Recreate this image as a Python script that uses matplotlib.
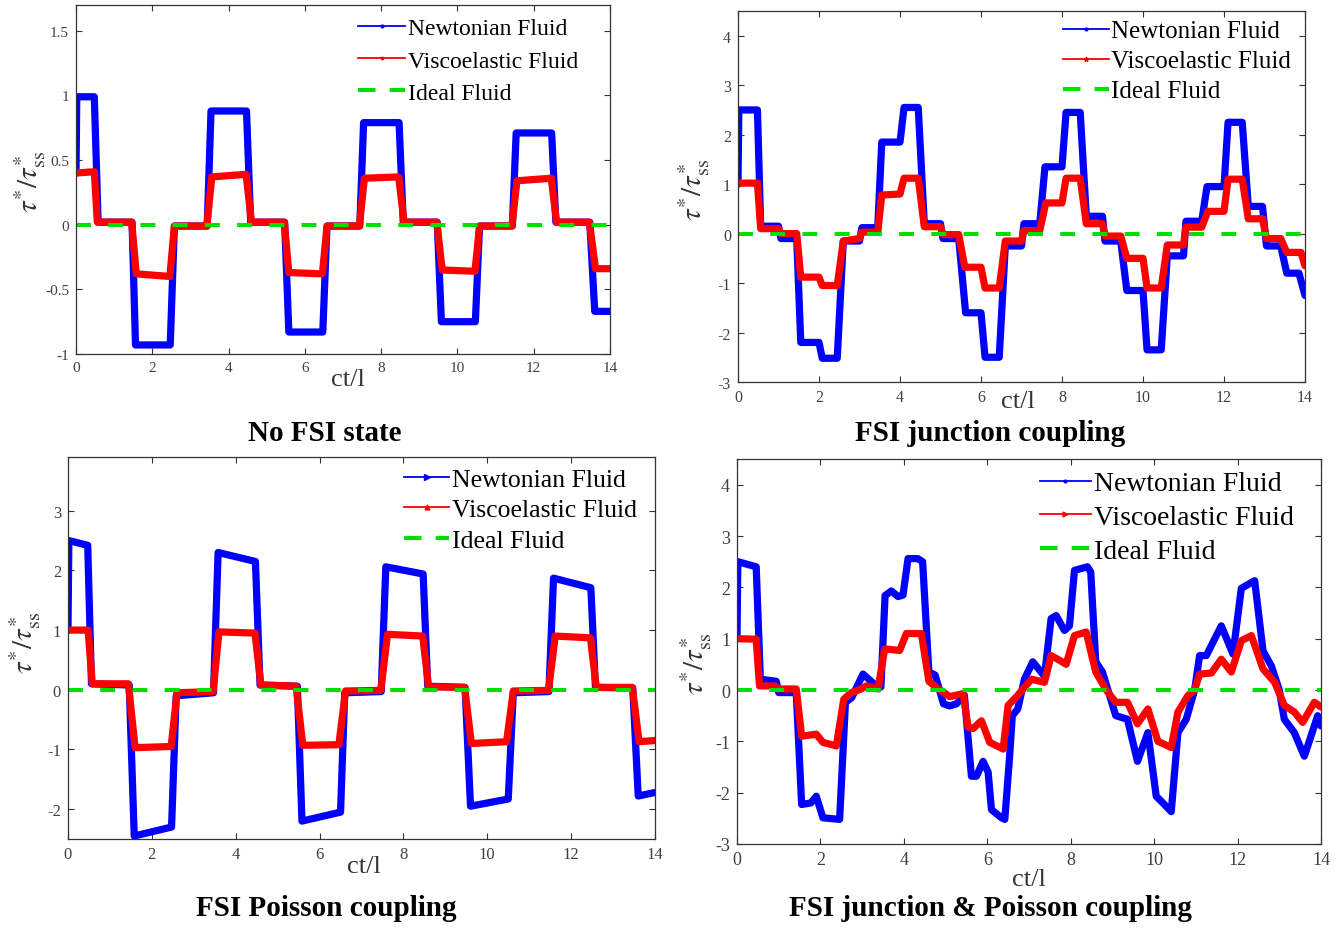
import matplotlib
matplotlib.use("Agg")
import matplotlib.pyplot as plt
from matplotlib.lines import Line2D
from matplotlib.ticker import FuncFormatter

# ---- data (ct/l, tau*/tau*_ss) ----
# No FSI state
p1_t_newt = [0, 0.02, 0.48, 0.58, 1.47, 1.56, 2.47, 2.58, 3.44, 3.54, 4.47, 4.58, 5.47, 5.58, 6.47, 6.58,
             7.44, 7.54, 8.47, 8.58, 9.47, 9.58, 10.47, 10.58, 11.44, 11.54, 12.47, 12.58, 13.47, 13.6, 14.0]
p1_newt = [0.40, 0.99, 0.99, 0.02, 0.02, -0.93, -0.93, -0.01, -0.01, 0.88, 0.88, 0.02, 0.02, -0.83, -0.83, -0.01,
           -0.01, 0.79, 0.79, 0.02, 0.02, -0.75, -0.75, -0.01, -0.01, 0.71, 0.71, 0.02, 0.02, -0.67, -0.67]
p1_t_visc = [0, 0.48, 0.56, 1.46, 1.58, 2.46, 2.58, 3.43, 3.56, 4.46, 4.6, 5.46, 5.58, 6.46, 6.58,
             7.43, 7.56, 8.46, 8.6, 9.46, 9.6, 10.46, 10.58, 11.43, 11.56, 12.46, 12.6, 13.46, 13.62, 14.0]
p1_visc = [0.40, 0.41, 0.02, 0.02, -0.38, -0.40, -0.01, -0.01, 0.37, 0.39, 0.02, 0.02, -0.37, -0.38, -0.01,
           -0.01, 0.36, 0.37, 0.02, 0.02, -0.35, -0.36, -0.01, -0.01, 0.34, 0.36, 0.02, 0.02, -0.34, -0.34]

# FSI junction coupling
p2_t_newt = [0, 0.02, 0.48, 0.56, 1.0, 1.06, 1.45, 1.55, 2.0, 2.08, 2.45, 2.6, 3.0, 3.06, 3.45, 3.55,
             4.0, 4.1, 4.45, 4.6, 5.0, 5.06, 5.45, 5.62, 6.0, 6.1, 6.45, 6.6, 7.0, 7.06, 7.45, 7.58,
             8.0, 8.1, 8.45, 8.6, 9.0, 9.06, 9.45, 9.6, 10.0, 10.1, 10.45, 10.6, 11.0, 11.06, 11.45, 11.58,
             12.0, 12.1, 12.45, 12.6, 12.95, 13.05, 13.4, 13.55, 13.85, 14.0]
p2_newt = [1.0, 2.5, 2.5, 0.15, 0.15, -0.1, -0.1, -2.2, -2.2, -2.52, -2.52, -0.15, -0.15, 0.12, 0.12, 1.85,
           1.85, 2.55, 2.55, 0.2, 0.2, -0.1, -0.1, -1.6, -1.6, -2.5, -2.5, -0.25, -0.25, 0.2, 0.2, 1.35,
           1.35, 2.45, 2.45, 0.35, 0.35, -0.15, -0.15, -1.15, -1.15, -2.35, -2.35, -0.45, -0.45, 0.25, 0.25, 0.95,
           0.95, 2.25, 2.25, 0.55, 0.55, -0.25, -0.25, -0.8, -0.8, -1.25]
p2_t_visc = [0, 0.02, 0.48, 0.56, 1.0, 1.06, 1.45, 1.55, 2.0, 2.08, 2.45, 2.6, 3.0, 3.06, 3.45, 3.55,
             4.0, 4.1, 4.45, 4.6, 5.0, 5.06, 5.45, 5.6, 6.0, 6.1, 6.45, 6.6, 7.0, 7.06, 7.45, 7.6,
             8.0, 8.1, 8.45, 8.6, 9.0, 9.06, 9.45, 9.6, 10.0, 10.1, 10.45, 10.6, 11.0, 11.06, 11.45, 11.6,
             12.0, 12.1, 12.45, 12.6, 12.95, 13.05, 13.4, 13.55, 13.9, 14.0]
p2_visc = [1.0, 1.02, 1.02, 0.1, 0.1, 0.0, 0.0, -0.88, -0.88, -1.05, -1.05, -0.15, -0.1, 0.03, 0.03, 0.78,
           0.8, 1.12, 1.12, 0.14, 0.14, -0.02, -0.02, -0.68, -0.68, -1.1, -1.1, -0.15, -0.15, 0.06, 0.06, 0.62,
           0.62, 1.12, 1.12, 0.2, 0.2, -0.05, -0.05, -0.5, -0.5, -1.1, -1.1, -0.23, -0.23, 0.13, 0.13, 0.45,
           0.45, 1.1, 1.1, 0.3, 0.3, -0.1, -0.1, -0.38, -0.38, -0.65]

# FSI Poisson coupling
p3_t_newt = [0, 0.02, 0.47, 0.56, 1.46, 1.58, 2.47, 2.58, 3.47, 3.58, 4.47, 4.58, 5.47, 5.58, 6.5, 6.6,
             7.47, 7.58, 8.47, 8.58, 9.47, 9.6, 10.5, 10.62, 11.47, 11.58, 12.47, 12.58, 13.47, 13.6, 14.0]
p3_newt = [1.0, 2.5, 2.42, 0.1, 0.08, -2.45, -2.3, -0.1, -0.05, 2.3, 2.15, 0.08, 0.06, -2.2, -2.05, -0.05,
           -0.03, 2.06, 1.94, 0.06, 0.04, -1.95, -1.83, -0.05, -0.03, 1.87, 1.71, 0.04, 0.03, -1.78, -1.72]
p3_t_visc = [0, 0.48, 0.58, 1.44, 1.6, 2.46, 2.6, 3.46, 3.6, 4.46, 4.6, 5.44, 5.6, 6.46, 6.62,
             7.46, 7.62, 8.46, 8.6, 9.46, 9.62, 10.46, 10.62, 11.46, 11.62, 12.46, 12.6, 13.46, 13.62, 14.0]
p3_visc = [1.0, 1.0, 0.1, 0.1, -0.97, -0.95, -0.05, -0.03, 0.97, 0.95, 0.08, 0.06, -0.93, -0.92, -0.02,
           -0.01, 0.93, 0.9, 0.05, 0.04, -0.9, -0.87, -0.02, -0.01, 0.9, 0.87, 0.04, 0.04, -0.87, -0.85]

# FSI junction & Poisson coupling
p4_t_newt = [0, 0.02, 0.46, 0.56, 0.94, 1.0, 1.42, 1.55, 1.77, 1.9,
             2.06, 2.46, 2.6, 2.75, 3.02, 3.34, 3.45, 3.55, 3.7, 3.86, 3.98,
             4.1, 4.33, 4.45, 4.6, 4.75, 4.95, 5.1, 5.26, 5.45, 5.62,
             5.74, 5.9, 6.02, 6.1, 6.34, 6.42, 6.53, 6.6, 6.73, 6.89,
             7.09, 7.37, 7.53, 7.65, 7.85, 7.97, 8.09, 8.4, 8.48, 8.6,
             8.76, 8.96, 9.08, 9.36, 9.6, 9.85, 10.05, 10.21, 10.41, 10.57,
             10.77, 10.97, 11.09, 11.25, 11.61, 11.89, 12.09, 12.41, 12.61, 12.81,
             13.0, 13.12, 13.36, 13.6, 13.8, 13.92, 14.0]
p4_newt = [1.0, 2.5, 2.4, 0.21, 0.17, -0.05, -0.05, -2.23, -2.2, -2.07,
           -2.49, -2.52, -0.24, -0.15, 0.31, 0.08, 0.06, 1.84, 1.93, 1.82, 1.85,
           2.56, 2.56, 2.5, 0.35, 0.29, -0.27, -0.31, -0.27, -0.1, -1.68,
           -1.68, -1.39, -1.6, -2.33, -2.49, -2.52, -1.35, -0.5, -0.37, 0.21,
           0.55, 0.27, 1.39, 1.45, 1.16, 1.25, 2.33, 2.4, 2.3, 0.55,
           0.35, -0.18, -0.5, -0.57, -1.39, -0.83, -2.07, -2.2, -2.37, -0.83,
           -0.57, 0.0, 0.67, 0.67, 1.25, 0.7, 1.98, 2.13, 0.76, 0.47,
           0.0, -0.57, -0.83, -1.29, -0.8, -0.5, -0.7]
p4_t_visc = [0, 0.46, 0.54, 0.9, 1.0, 1.42, 1.55, 1.9, 2.06, 2.38,
             2.56, 2.74, 2.98, 3.1, 3.38, 3.54, 3.9, 4.06, 4.42, 4.6,
             4.78, 5.1, 5.42, 5.54, 5.66, 5.86, 6.06, 6.38, 6.5, 6.7,
             6.86, 7.06, 7.37, 7.53, 7.69, 7.89, 8.09, 8.37, 8.6, 8.85,
             9.08, 9.36, 9.6, 9.85, 10.09, 10.41, 10.57, 10.81, 10.97, 11.09,
             11.37, 11.61, 11.85, 12.09, 12.33, 12.61, 12.89, 13.12, 13.36, 13.56,
             13.84, 14.0]
p4_visc = [1.0, 0.99, 0.08, 0.08, 0.02, 0.02, -0.9, -0.86, -1.02, -1.09,
           -0.18, -0.05, 0.02, 0.08, 0.02, 0.8, 0.77, 1.1, 1.1, 0.17,
           0.05, -0.13, -0.07, -0.72, -0.75, -0.6, -1.02, -1.15, -0.3, -0.13,
           0.02, 0.21, 0.15, 0.67, 0.6, 0.5, 1.06, 1.13, 0.35, 0.0,
           -0.24, -0.24, -0.66, -0.37, -1.0, -1.12, -0.43, -0.11, 0.0, 0.31,
           0.33, 0.6, 0.35, 0.96, 1.06, 0.41, 0.15, -0.3, -0.43, -0.63,
           -0.24, -0.33]

x_ticks = [0, 2, 4, 6, 8, 10, 12, 14]
p1_yticks = [-1, -0.5, 0, 0.5, 1, 1.5]
p2_yticks = [-3, -2, -1, 0, 1, 2, 3, 4]
p3_yticks = [-2, -1, 0, 1, 2, 3]
p4_yticks = [-3, -2, -1, 0, 1, 2, 3, 4]

titles = ["No FSI state", "FSI junction coupling", "FSI Poisson coupling",
          "FSI junction & Poisson coupling"]
labels = ["Newtonian Fluid", "Viscoelastic Fluid", "Ideal Fluid"]

# ---- styling ----
plt.rcParams["font.family"] = "serif"
plt.rcParams["font.serif"] = ["Liberation Serif", "DejaVu Serif"]
plt.rcParams["mathtext.fontset"] = "stix"
plt.rcParams["axes.unicode_minus"] = False

W, H = 1338, 929
BLUE, RED, GREEN = "#0000ff", "#ff0000", "#00e000"


def px_rect(l, t, r, b):
    return [l / W, 1 - b / H, (r - l) / W, (b - t) / H]


panels = [
    dict(box=(76, 6, 610, 355), ylim=(-1, 1.7), yticks=p1_yticks,
         newt=(p1_t_newt, p1_newt), visc=(p1_t_visc, p1_visc),
         tick_fs=11, leg_fs=17, leg_xy=(0.528, 0.963), hl=2.0, ls=0.45, marks=(".", "."),
         xlab=(0.509, -0.072), ylab=(-0.086, 0.496), title_xy=(325, 434)),
    dict(box=(738, 12, 1305, 383), ylim=(-3, 4.5), yticks=p2_yticks,
         newt=(p2_t_newt, p2_newt), visc=(p2_t_visc, p2_visc),
         tick_fs=11.5, leg_fs=18, leg_xy=(0.573, 0.976), hl=1.84, ls=0.3, marks=(".", "*"),
         xlab=(0.494, -0.051), ylab=(-0.078, 0.52), title_xy=(990, 434)),
    dict(box=(68, 458, 655, 840), ylim=(-2.5, 3.9), yticks=p3_yticks,
         newt=(p3_t_newt, p3_newt), visc=(p3_t_visc, p3_visc),
         tick_fs=12, leg_fs=18.5, leg_xy=(0.573, 0.972), hl=1.75, ls=0.3, marks=(">", "^"),
         xlab=(0.504, -0.071), ylab=(-0.072, 0.516), title_xy=(326, 909)),
    dict(box=(737, 460, 1321, 845), ylim=(-3, 4.5), yticks=p4_yticks,
         newt=(p4_t_newt, p4_newt), visc=(p4_t_visc, p4_visc),
         tick_fs=13, leg_fs=20, leg_xy=(0.518, 0.969), hl=1.85, ls=0.3, marks=(".", ">"),
         xlab=(0.5, -0.091), ylab=(-0.07, 0.47), title_xy=(990, 909)),
]

fig = plt.figure(figsize=(W / 100, H / 100), dpi=100)

for p, title in zip(panels, titles):
    ax = fig.add_axes(px_rect(*p["box"]))
    ax.plot(*p["newt"], color=BLUE, lw=5.2, solid_joinstyle="round", solid_capstyle="round")
    ax.plot(*p["visc"], color=RED, lw=5.2, solid_joinstyle="round", solid_capstyle="round")
    ax.plot([x_ticks[0], x_ticks[-1]], [0, 0], color=GREEN, lw=2.9, ls=(0, (3.7, 4.3)))

    ax.set_xlim(x_ticks[0], x_ticks[-1])
    ax.set_ylim(*p["ylim"])
    ax.set_xticks(x_ticks)
    ax.set_yticks(p["yticks"])
    ax.yaxis.set_major_formatter(FuncFormatter(lambda v, pos: "{:g}".format(v)))
    ax.tick_params(direction="in", top=True, right=True, length=4, width=0.8,
                   color="#333333", labelcolor="#404040", labelsize=p["tick_fs"], pad=5)
    for s in ax.spines.values():
        s.set_color("#333333")
        s.set_linewidth(0.9)

    ax.set_xlabel("ct/l", fontsize=19, color="#333333")
    ax.xaxis.set_label_coords(*p["xlab"])
    ax.xaxis.label.set_verticalalignment("center")
    ax.set_ylabel(r"$\tau^{*}/\tau^{*}_{\mathrm{ss}}$", fontsize=21, color="#333333")
    ax.yaxis.set_label_coords(*p["ylab"])
    ax.yaxis.label.set_verticalalignment("center")

    handles = [
        Line2D([], [], color=BLUE, lw=1.3, marker=p["marks"][0], ms=4),
        Line2D([], [], color=RED, lw=1.3, marker=p["marks"][1], ms=3.5),
        Line2D([], [], color=GREEN, lw=3, ls=(0, (4.2, 3.4))),
    ]
    ax.legend(handles, labels, loc="upper left", bbox_to_anchor=p["leg_xy"], frameon=False,
              fontsize=p["leg_fs"], handlelength=p["hl"], handletextpad=0.1,
              labelspacing=p["ls"], borderpad=0, borderaxespad=0)

    fig.text(p["title_xy"][0] / W, 1 - p["title_xy"][1] / H, title, ha="center", va="center",
             fontsize=21, fontweight="bold")

fig.savefig("out.png", dpi=100)
